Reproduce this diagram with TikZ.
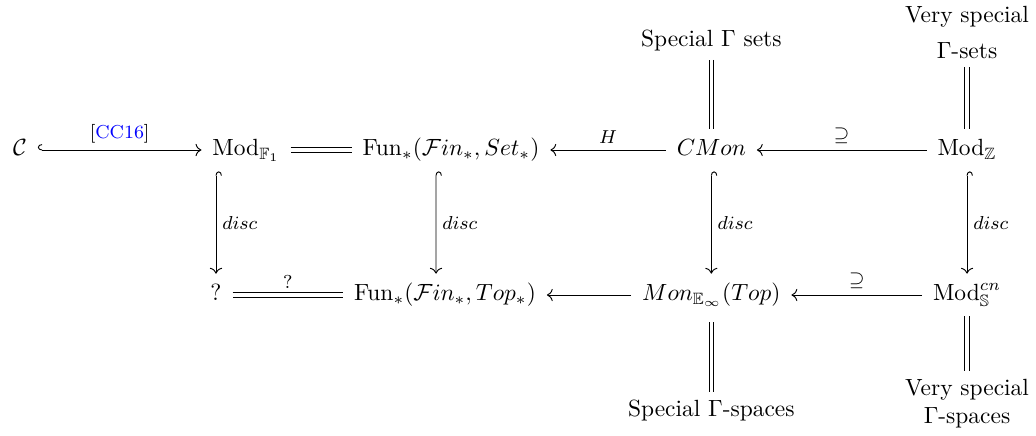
\documentclass[tikz,border=0pt]{standalone}
\usepackage{amsmath,amssymb}
\usetikzlibrary{arrows.meta,positioning}
\definecolor{citeblue}{RGB}{0,0,255}
\tikzset{
  obj/.style={text height=1.6ex, text depth=0.45ex, inner sep=4.5pt},
  lbl/.style={font=\footnotesize, inner sep=2.5pt},
  toarr/.style={-{Computer Modern Rightarrow}},
  hookarr/.style={{Hooks[right, width=5pt, length=1.8pt]}-{Computer Modern Rightarrow}},
  eqline/.style={double, double equal sign distance},
}

\begin{document}
\begin{tikzpicture}
    \useasboundingbox (0,0) rectangle (15.54,-6.525);
    % upper row
    \node[obj] (cc) at (0.30,-2.25) {$\mathcal{C}$};
    \node[obj] (modf) at (3.69,-2.25) {$\mathrm{Mod}_{\mathbb{F}_1}$};
    \node[obj] (funset) at (6.765,-2.25) {$\mathrm{Fun}_*(\mathcal{F}in_*, Set_*)$};
    \node[obj] (cmon) at (10.67,-2.25) {$CMon$};
    \node[obj] (modz) at (14.505,-2.25) {$\mathrm{Mod}_{\mathbb{Z}}$};
    % lower row
    \node[obj] (q) at (3.24,-4.425) {?};
    \node[obj] (funtop) at (6.675,-4.425) {$\mathrm{Fun}_*(\mathcal{F}in_*, Top_*)$};
    \node[obj] (mon) at (10.67,-4.425) {$Mon_{\mathbb{E}_\infty}(Top)$};
    \node[obj] (mods) at (14.505,-4.425) {$\mathrm{Mod}^{cn}_{\mathbb{S}}$};
    % gamma names
    \node (sgsets) at (10.67,-0.615) {Special $\Gamma$ sets};
    \node[align=center] (vsgsets) at (14.505,-0.49) {Very special\\[3.5pt]$\Gamma$-sets};
    \node (sgspaces) at (10.67,-6.165) {Special $\Gamma$-spaces};
    \node[align=center] (vsgspaces) at (14.505,-6.06) {Very special\\$\Gamma$-spaces};

    \draw[hookarr] (cc) -- node[lbl, above] {[\textcolor{citeblue}{CC16}]} (modf);
    \draw[eqline] (modf) -- (funset);
    \draw[toarr] (cmon) -- node[lbl, above] {$H$} (funset);
    \draw[toarr] (modz) -- node[lbl, above] {$\supseteq$} (cmon);
    \draw[eqline] (q) -- node[lbl, above] {?} (funtop);
    \draw[toarr] (mon) -- (funtop);
    \draw[toarr] (mods) -- node[lbl, above] {$\supseteq$} (mon);

    \draw[hookarr] (modf.south -| q) -- node[lbl, right] {$disc$} (q);
    \draw[hookarr] ([xshift=-0.225cm]funset.south) -- node[lbl, right] {$disc$} ([xshift=-0.135cm]funtop.north);
    \draw[hookarr] (cmon) -- node[lbl, right] {$disc$} (mon);
    \draw[hookarr] (modz) -- node[lbl, right] {$disc$} (mods);

    \draw[eqline] (sgsets) -- (cmon);
    \draw[eqline] (vsgsets) -- (modz);
    \draw[eqline, shorten <=2.5pt] (mon) -- (sgspaces);
    \draw[eqline] (mods) -- (vsgspaces);
\end{tikzpicture}
\end{document}
